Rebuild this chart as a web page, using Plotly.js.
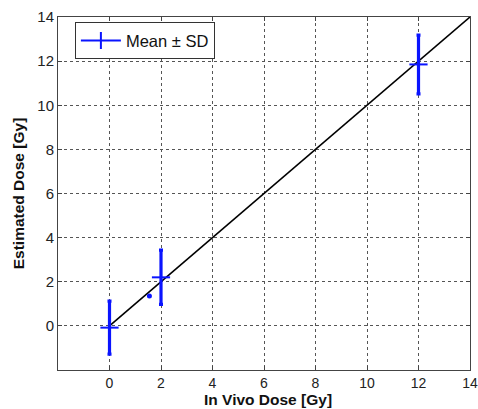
<!DOCTYPE html>
<html><head><meta charset="utf-8">
<script src="https://cdn.plot.ly/plotly-3.0.1.min.js"></script>
<style>html,body{margin:0;padding:0;background:#fff}#c{width:478px;height:409px}</style>
</head><body><div id="c"></div>
<script>
var doses = [0, 2, 12];
var means = [-0.08, 2.2, 11.85];
var sds = [1.2, 1.23, 1.33];
var strayX = [1.55];
var strayY = [1.35];
var refX = [0, 14];
var refY = [0, 14];

var blue = '#0a14ff';
var traces = [
  {x: refX, y: refY, mode: 'lines', line: {color: '#000', width: 1.6}, showlegend: false, hoverinfo: 'skip'},
  {x: doses, y: means, mode: 'markers', showlegend: false,
   marker: {symbol: 'line-ew', size: 13, line: {color: blue, width: 2}},
   error_y: {type: 'data', array: sds, visible: true, color: blue, thickness: 3.2, width: 2}},
  {x: strayX, y: strayY, mode: 'markers', showlegend: false,
   marker: {symbol: 'circle', size: 5, color: blue}},
  {x: [null], y: [null], mode: 'lines+markers', name: 'Mean \u00b1 SD',
   line: {color: blue, width: 2}, marker: {symbol: 'line-ns', size: 12, line: {color: blue, width: 2}}}
];
var ax = {
  showgrid: true, gridcolor: '#555', griddash: 'dot', gridwidth: 1,
  zeroline: false, showline: true, linecolor: '#444', linewidth: 1, mirror: 'ticks',
  ticks: 'inside', ticklen: 4, tickcolor: '#444',
  tickfont: {family: 'Liberation Sans, Arial', size: 15, color: '#222'}
};
var layout = {
  width: 478, height: 409,
  margin: {l: 58, r: 8, t: 17, b: 39},
  paper_bgcolor: '#fff', plot_bgcolor: '#fff',
  font: {family: 'Liberation Sans, Arial'},
  xaxis: Object.assign({}, ax, {range: [-2, 14], tickvals: [0,2,4,6,8,10,12,14],
    ticklabeloverflow: 'allow', ticklabelstandoff: 0,
    tickfont: {family: 'Liberation Sans, Arial', size: 14, color: '#222'}}),
  yaxis: Object.assign({}, ax, {range: [-2, 14], tickvals: [0,2,4,6,8,10,12,14],
    title: {text: '<b>Estimated Dose [Gy]</b>', font: {size: 15.5, color: '#111'}, standoff: 8}}),
  annotations: [{text: '<b>In Vivo Dose [Gy]</b>', xref: 'paper', yref: 'paper', x: 0.51, y: 0,
    xanchor: 'center', yanchor: 'top', yshift: -20, showarrow: false, borderpad: 0,
    font: {size: 15.5, color: '#111'}}],
  legend: {x: 0.041, y: 0.985, xanchor: 'left', yanchor: 'top', bgcolor: '#fff',
    bordercolor: '#333', borderwidth: 1, font: {size: 16.5, color: '#111'}, itemwidth: 40}
};
Plotly.newPlot('c', traces, layout, {displayModeBar: false, staticPlot: true});
</script></body></html>
